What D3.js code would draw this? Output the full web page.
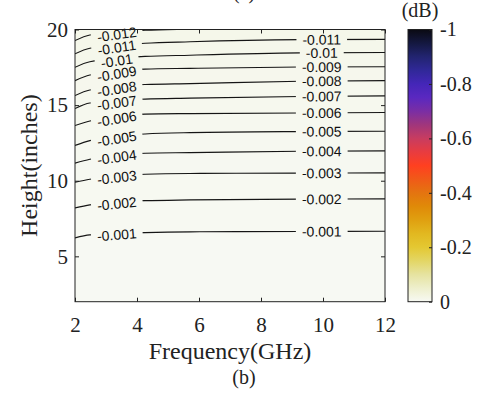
<!DOCTYPE html>
<html>
<head>
<meta charset="utf-8">
<script src="https://cdn.jsdelivr.net/npm/d3@7"></script>
<style>
  body { margin: 0; background: #fff; }
  svg { display: block; }
</style>
</head>
<body>
<div id="chart"></div>
<script>
let svgW = 481;
let svgH = 396;

const freqs = [2, 2.48, 4.26, 5.71, 9.26, 12];
const levels = [-0.012, -0.011, -0.01, -0.009, -0.008, -0.007, -0.006, -0.005, -0.004, -0.003, -0.002, -0.001];
// contour heights (inches) per level, same order as levels
const h012 = [19.27, 19.64, 19.95, 20.03, 20.15, 20.2];
const h011 = [18.39, 18.76, 19.09, 19.19, 19.33, 19.35];
const h010 = [17.50, 17.87, 18.22, 18.30, 18.45, 18.48];
const h009 = [16.62, 16.99, 17.38, 17.43, 17.52, 17.54];
const h008 = [15.63, 16.00, 16.36, 16.42, 16.58, 16.62];
const h007 = [14.77, 15.14, 15.40, 15.46, 15.57, 15.61];
const h006 = [13.65, 13.95, 14.40, 14.44, 14.48, 14.51];
const h005 = [12.33, 12.65, 13.09, 13.18, 13.25, 13.27];
const h004 = [11.16, 11.42, 11.82, 11.86, 11.95, 11.97];
const h003 = [9.90, 10.10, 10.43, 10.48, 10.50, 10.52];
const h002 = [8.20, 8.40, 8.68, 8.73, 8.78, 8.80];
const h001 = [6.22, 6.42, 6.57, 6.62, 6.64, 6.66];
const heights = [h012, h011, h010, h009, h008, h007, h006, h005, h004, h003, h002, h001];

// where the inline labels sit (GHz)
const labelLeftF = 3.35;
const labelRightF = 9.96;

const xTicks = [2, 4, 6, 8, 10, 12];
const yTicks = [5, 10, 15, 20];
const cbTicks = [-1, -0.8, -0.6, -0.4, -0.2, 0];

// colormap stops
const cmapVals = [-1, -0.95, -0.9, -0.85, -0.8, -0.75, -0.7, -0.65, -0.6, -0.55, -0.5, -0.45, -0.4, -0.35, -0.3, -0.25, -0.2, -0.15, -0.1, -0.05, 0];
const cmapCols = ["#0a0a12", "#141840", "#222470", "#302898", "#4426b8", "#5a28c0", "#7a2ea4", "#a0367c", "#c83c60", "#e83c40", "#ff4020", "#f05a18", "#e47410", "#e08a08", "#e0a010", "#e2b820", "#e4c832", "#e3d665", "#e6e3a0", "#eeefcc", "#f7f9f3"];

const color = d3.scaleLinear().domain(cmapVals).range(cmapCols);

let svg = d3.select("#chart").append("svg")
  .attr("width", svgW)
  .attr("height", svgH);

const pLeft = 75, pRight = 385, pTop = 29.5, pBottom = 301.7;
const x = d3.scaleLinear().domain([2, 12]).range([pLeft, pRight]);
const y = d3.scaleLinear().domain([2, 20]).range([pBottom, pTop]);

const defs = svg.append("defs");
defs.append("clipPath").attr("id", "plotclip")
  .append("rect")
  .attr("x", pLeft).attr("y", pTop)
  .attr("width", pRight - pLeft).attr("height", pBottom - pTop);

// filled bands
const plot = svg.append("g").attr("clip-path", "url(#plotclip)");
plot.append("rect")
  .attr("x", pLeft).attr("y", pTop)
  .attr("width", pRight - pLeft).attr("height", pBottom - pTop)
  .attr("fill", color(0));

const rows = levels.map((lv, i) => ({ level: lv, pts: freqs.map((f, j) => [f, heights[i][j]]) }));

const area = d3.area()
  .x(d => x(d[0]))
  .y0(pTop - 20)
  .y1(d => y(d[1]))
  .curve(d3.curveMonotoneX);

rows.slice().reverse().forEach(r => {
  plot.append("path")
    .attr("d", area(r.pts))
    .attr("fill", color(r.level));
});

// contour lines with gaps for labels
const mask = defs.append("mask").attr("id", "labelmask")
  .attr("maskUnits", "userSpaceOnUse")
  .attr("x", 0).attr("y", 0).attr("width", svgW).attr("height", svgH);
mask.append("rect").attr("x", 0).attr("y", 0).attr("width", svgW).attr("height", svgH).attr("fill", "white");

const line = d3.line()
  .x(d => x(d[0]))
  .y(d => y(d[1]))
  .curve(d3.curveMonotoneX);

const lineG = plot.append("g").attr("mask", "url(#labelmask)");
const labelG = svg.append("g");

function addLabel(r, px, py, ang) {
  const t = labelG.append("text")
    .attr("transform", `translate(${px},${py}) rotate(${ang})`)
    .attr("text-anchor", "middle")
    .attr("dy", "0.36em")
    .style("font-family", "'Liberation Sans', Arial, sans-serif")
    .style("font-size", "14px")
    .attr("fill", "#111")
    .text(String(r.level));
  const w = t.node().getComputedTextLength();
  mask.append("rect")
    .attr("transform", `translate(${px},${py}) rotate(${ang})`)
    .attr("x", -w / 2 - 6).attr("y", -6)
    .attr("width", w + 12).attr("height", 12)
    .attr("fill", "black");
}

rows.forEach(r => {
  lineG.append("path")
    .attr("d", line(r.pts))
    .attr("fill", "none")
    .attr("stroke", "#151515")
    .attr("stroke-width", 1.15);

  const hAt = d3.scaleLinear().domain(freqs).range(r.pts.map(p => p[1]));

  // left label: aligned with the chord across the bend
  const ax = x(freqs[0]), ay = y(r.pts[0][1]);
  const bx = x(freqs[2]), by = y(r.pts[2][1]);
  const lx = x(labelLeftF);
  const ly = ay + (lx - ax) / (bx - ax) * (by - ay);
  addLabel(r, lx, ly, Math.atan2(by - ay, bx - ax) * 180 / Math.PI);

  // right label
  const rx = x(labelRightF), ry = y(hAt(labelRightF));
  if (ry > pTop + 4) {
    const dy = y(hAt(labelRightF + 0.4)) - y(hAt(labelRightF - 0.4));
    const dx = x(labelRightF + 0.4) - x(labelRightF - 0.4);
    addLabel(r, rx, ry, Math.atan2(dy, dx) * 180 / Math.PI);
  }
});

// axes
const serif = "'Liberation Serif', 'Times New Roman', serif";

const xAxis = svg.append("g")
  .attr("transform", `translate(0,${pBottom})`)
  .call(d3.axisBottom(x).tickValues(xTicks).tickSizeInner(-4).tickSizeOuter(0).tickPadding(15).tickFormat(d => String(d)));
const xTop = svg.append("g")
  .attr("transform", `translate(0,${pTop})`)
  .call(d3.axisTop(x).tickValues(xTicks).tickSizeInner(-4).tickSizeOuter(0).tickFormat(""));
const yAxis = svg.append("g")
  .attr("transform", `translate(${pLeft},0)`)
  .call(d3.axisLeft(y).tickValues(yTicks).tickSizeInner(-4).tickSizeOuter(0).tickPadding(7).tickFormat(d => String(d)));
const yRight = svg.append("g")
  .attr("transform", `translate(${pRight},0)`)
  .call(d3.axisRight(y).tickValues(yTicks).tickSizeInner(-4).tickSizeOuter(0).tickFormat(""));

[xAxis, xTop, yAxis, yRight].forEach(g => {
  g.attr("font-family", null).attr("font-size", null);
  g.select(".domain").remove();
  g.selectAll("line").attr("stroke", "#222");
  g.selectAll("text").style("font-family", serif).style("font-size", "21px").attr("fill", "#222");
});

svg.append("rect")
  .attr("x", pLeft).attr("y", pTop)
  .attr("width", pRight - pLeft).attr("height", pBottom - pTop)
  .attr("fill", "none").attr("stroke", "#222").attr("stroke-width", 1);

svg.append("text")
  .attr("x", (pLeft + pRight) / 2).attr("y", 359)
  .attr("text-anchor", "middle")
  .style("font-family", serif).style("font-size", "24px").attr("fill", "#222")
  .text("Frequency(GHz)");

svg.append("text")
  .attr("transform", `translate(37,${(pTop + pBottom) / 2}) rotate(-90)`)
  .attr("text-anchor", "middle")
  .style("font-family", serif).style("font-size", "24px").attr("fill", "#222")
  .text("Height(inches)");

svg.append("text")
  .attr("x", 244).attr("y", 384)
  .attr("text-anchor", "middle")
  .style("font-family", serif).style("font-size", "20px").attr("fill", "#222")
  .text("(b)");

// title of the panel above, mostly outside the frame
svg.append("text")
  .attr("x", 244).attr("y", -1)
  .attr("text-anchor", "middle")
  .style("font-family", serif).style("font-size", "20px").attr("fill", "#222")
  .text("(a)");

// colorbar
const cbX = 408, cbW = 24;
const cy = d3.scaleLinear().domain([-1, 0]).range([pTop, pBottom]);
const grad = defs.append("linearGradient").attr("id", "cbgrad")
  .attr("x1", 0).attr("y1", 0).attr("x2", 0).attr("y2", 1);
cmapVals.forEach((v, i) => {
  grad.append("stop")
    .attr("offset", (cy(v) - pTop) / (pBottom - pTop))
    .attr("stop-color", cmapCols[i]);
});
svg.append("rect")
  .attr("x", cbX).attr("y", pTop)
  .attr("width", cbW).attr("height", pBottom - pTop)
  .attr("fill", "url(#cbgrad)")
  .attr("stroke", "#222").attr("stroke-width", 1);

const cbAxis = svg.append("g")
  .attr("transform", `translate(${cbX + cbW},0)`)
  .call(d3.axisRight(cy).tickValues(cbTicks).tickSizeInner(-3).tickSizeOuter(0).tickPadding(8).tickFormat(d => String(d)));
cbAxis.attr("font-family", null).attr("font-size", null);
cbAxis.select(".domain").remove();
cbAxis.selectAll("line").attr("stroke", "#222");
cbAxis.selectAll("text").style("font-family", serif).style("font-size", "20px").attr("fill", "#222");

svg.append("text")
  .attr("x", cbX + cbW / 2).attr("y", 17)
  .attr("text-anchor", "middle")
  .style("font-family", serif).style("font-size", "20px").attr("fill", "#222")
  .text("(dB)");
</script>
</body>
</html>
